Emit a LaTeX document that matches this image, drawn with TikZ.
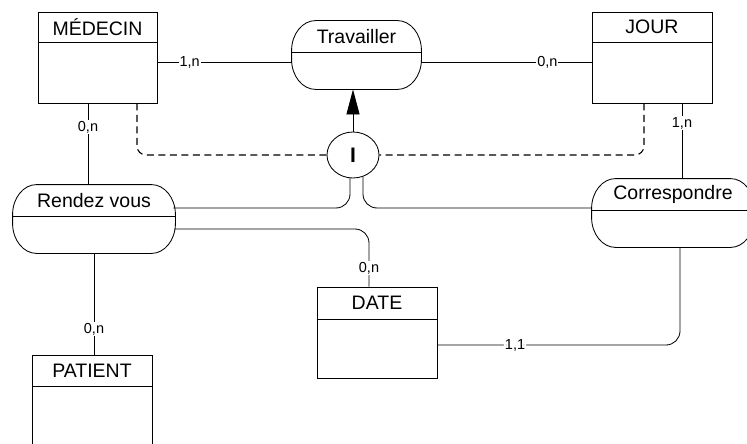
\documentclass[tikz,border=0pt]{standalone}
\usepackage{fontspec}
\setmainfont{Liberation Sans}
\usetikzlibrary{arrows.meta,shapes.geometric}
\newcommand\assocoutline[1]{%
  \draw ([xshift=24pt]#1.north west) -- ([xshift=-24pt]#1.north east)
    arc[start angle=90,end angle=0,x radius=24pt,y radius=30pt]
    -- ([yshift=30pt]#1.south east)
    arc[start angle=0,end angle=-90,x radius=24pt,y radius=30pt]
    -- ([xshift=24pt]#1.south west)
    arc[start angle=270,end angle=180,x radius=24pt,y radius=30pt]
    -- ([yshift=-30pt]#1.north west)
    arc[start angle=180,end angle=90,x radius=24pt,y radius=30pt] -- cycle;}
\begin{document}
\begin{tikzpicture}[x=1pt,y=-1pt,line width=0.85pt,
  entity/.style={draw, rectangle, minimum width=120pt, minimum height=91pt, inner sep=0pt},
  assoc/.style={rectangle, minimum height=68pt, inner sep=0pt},
  ttl/.style={font=\fontsize{19.5}{22}\selectfont, inner sep=0pt},
  lbl/.style={font=\fontsize{14.5}{16}\selectfont, fill=white, inner sep=1pt},
  dsh/.style={line width=1.1pt, dash pattern=on 7pt off 4.5pt, rounded corners=9pt},
  rnd/.style={rounded corners=14pt}]
\path[use as bounding box, clip] (0,0) rectangle (747,444);

% entities
\node[entity, minimum width=119pt] (med) at (97.5,57.5) {};
\draw ([yshift=-31pt]med.north west) -- ([yshift=-31pt]med.north east);
\node[ttl] (medt) at ([yshift=-15.5pt]med.north) {MÉDECIN};

\node[entity] (jour) at (652,57.5) {};
\draw ([yshift=-31pt]jour.north west) -- ([yshift=-31pt]jour.north east);
\node[ttl] (jourt) at ([yshift=-15.5pt]jour.north) {JOUR};

\node[entity] (date) at (377,332.5) {};
\draw ([yshift=-33pt]date.north west) -- ([yshift=-33pt]date.north east);
\node[ttl] (datet) at ([yshift=-16.5pt]date.north) {DATE};

\node[entity] (pat) at (92,400.5) {};
\draw ([yshift=-32pt]pat.north west) -- ([yshift=-32pt]pat.north east);
\node[ttl] (patt) at ([yshift=-16pt]pat.north) {PATIENT};

% associations
\node[assoc, minimum width=129pt] (trav) at (356.5,55) {};
\assocoutline{trav}
\draw ([yshift=-32pt]trav.north west) -- ([yshift=-32pt]trav.north east);
\node[ttl] (travt) at ([yshift=-16pt]trav.north) {Travailler};

\node[assoc, minimum width=162pt] (rdv) at (94,219) {};
\assocoutline{rdv}
\draw ([yshift=-32pt]rdv.north west) -- ([yshift=-32pt]rdv.north east);
\node[ttl] (rdvt) at ([yshift=-16pt]rdv.north) {Rendez vous};

\node[assoc, minimum width=162pt] (corr) at (673,213) {};
\assocoutline{corr}
\draw ([yshift=-32pt]corr.north west) -- ([yshift=-32pt]corr.north east);
\node[ttl] (corrt) at ([yshift=-16pt]corr.north) {Correspondre};

% inclusion constraint
\node[draw, ellipse, minimum width=52pt, minimum height=46pt, inner sep=0pt,
      font=\fontsize{21}{24}\selectfont\bfseries] (I) at (353,155) {I};

% connectors
\draw ([yshift=-4.5pt]med.east) -- node[lbl, pos=0.24]{1,n} ([yshift=-4.5pt]med.east -| trav.west);
\draw ([yshift=-7pt]trav.east) -- node[lbl, pos=0.74]{0,n} ([yshift=-7pt]trav.east -| jour.west);
\draw[-{Triangle[length=25pt,width=13pt]}] (I.north) -- (I.north |- trav.south);

\draw[dsh] ([xshift=39.5pt]med.south) |- (I.west);
\draw[dsh] ([xshift=-8pt]jour.south) |- (I.east);

\draw ([xshift=-9.5pt]med.south) -- node[lbl, pos=0.29]{0,n} ([xshift=-9.5pt]med.south |- rdv.north);
\draw ([xshift=30pt]jour.south) -- node[lbl, pos=0.26]{1,n} ([xshift=30pt]jour.south |- corr.north);

\draw[rnd] ([xshift=-2pt,yshift=11pt]rdv.east) -| ([xshift=-3pt,yshift=0.2pt]I.south);
\draw[rnd] ([xshift=10pt,yshift=1.8pt]I.south) |- ([yshift=5pt]corr.west);

\draw[rnd] ([xshift=-1pt,yshift=-10pt]rdv.east) -| node[lbl, pos=0.84]{0,n} ([xshift=-8pt]date.north);
\draw[rnd] ([xshift=7pt]corr.south) |- node[lbl, pos=0.84]{1,1} ([yshift=-12.5pt]date.east);

\draw (rdv.south) -- node[lbl, pos=0.75]{0,n} (rdv.south |- pat.north);
\end{tikzpicture}
\end{document}
